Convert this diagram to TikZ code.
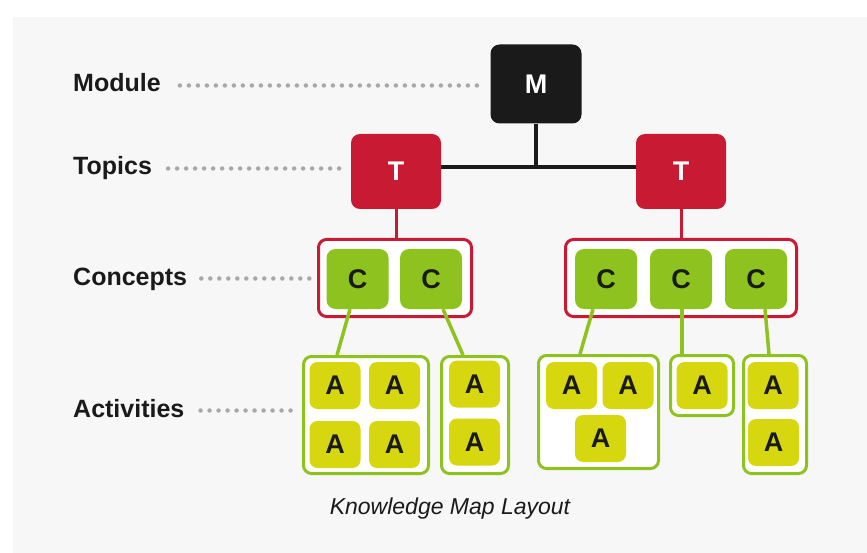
\documentclass[tikz,border=0pt]{standalone}
\usepackage{fontspec}
\setmainfont{Liberation Sans}
\usetikzlibrary{positioning,calc}
\definecolor{kmBlack}{HTML}{1A1A1A}
\definecolor{kmRed}{HTML}{C81A33}
\definecolor{kmGreen}{HTML}{8DC21F}
\definecolor{kmYellow}{HTML}{D7D70F}
\definecolor{kmBack}{HTML}{F7F7F7}
\definecolor{kmDot}{HTML}{A8A8A8}
\tikzset{
  kmbox/.style={rectangle, rounded corners=9pt, inner sep=0pt,
                font=\fontsize{27}{27}\selectfont\bfseries},
  kmmod/.style={kmbox, fill=kmBlack, text=white, minimum width=91pt, minimum height=79pt},
  kmtop/.style={kmbox, fill=kmRed, text=white, minimum width=90pt, minimum height=75pt},
  kmcon/.style={kmbox, fill=kmGreen, text=kmBlack, minimum width=62pt, minimum height=60pt},
  kmact/.style={kmbox, rounded corners=8pt, fill=kmYellow, text=kmBlack,
                minimum width=51pt, minimum height=47pt},
  kmcgrp/.style={rectangle, rounded corners=8pt, draw=kmRed, line width=3pt, fill=white},
  kmagrp/.style={rectangle, rounded corners=8pt, draw=kmGreen, line width=3pt, fill=white},
  kmlab/.style={anchor=west, inner sep=0pt, text height=18pt, text depth=5pt, text=kmBlack,
                font=\fontsize{25}{25}\selectfont\bfseries},
  kmguide/.style={draw=kmDot, line width=4.5pt, line cap=round, dash pattern=on 0pt off 9pt},
  kmlink/.style={draw=kmGreen, line width=3.5pt},
}

\begin{document}
\begin{tikzpicture}[x=1pt, y=-1pt]
  \useasboundingbox (0,0) rectangle (867,553);
  \fill[white] (0,0) rectangle (867,553);
  \fill[kmBack] (13,17) rectangle (867,553);

  % row labels
  \node[kmlab] (lModule) at (73,85.5) {Module};
  \node[kmlab] (lTopics) at (73,168.5) {Topics};
  \node[kmlab] (lConcepts) at (73,278.5) {Concepts};
  \node[kmlab] (lActivities) at (73,410.5) {Activities};

  % module and topics
  \node[kmmod] (M) at (536,84) {M};
  \node[kmtop] (T1) at (396,171.5) {T};
  \node[kmtop] (T2) at (681,171.5) {T};
  \coordinate (tj) at ($(T1.east)+(0,-4)$);
  \draw[kmBlack, line width=4pt] (tj) -- (tj -| T2.west);
  \draw[kmBlack, line width=4pt] (M.south) -- (M.south |- tj);

  % concept groups
  \node[kmcgrp, minimum width=153pt, minimum height=77pt] (CG1) at (395,278) {};
  \node[kmcgrp, minimum width=231pt, minimum height=77pt] (CG2) at (681,278) {};
  \draw[kmRed, line width=3pt] (T1.south) -- (T1.south |- CG1.north);
  \draw[kmRed, line width=3pt] (T2.south) -- (T2.south |- CG2.north);
  \node[kmcon] (C11) at (357.5,279) {C};
  \node[kmcon] (C12) at (431,279) {C};
  \node[kmcon] (C21) at (606,279) {C};
  \node[kmcon] (C22) at (681,279) {C};
  \node[kmcon] (C23) at (756,279) {C};

  % activity groups
  \node[kmagrp, minimum width=125pt, minimum height=117pt] (G1) at (366,415) {};
  \node[kmagrp, minimum width=67pt, minimum height=117pt] (G2) at (475,415) {};
  \node[kmagrp, minimum width=120pt, minimum height=113pt] (G3) at (598.5,412) {};
  \node[kmagrp, minimum width=63pt, minimum height=60pt] (G4) at (702,385.5) {};
  \node[kmagrp, minimum width=63pt, minimum height=118pt] (G5) at (775,414.5) {};

  \node[kmact] (A11) at (335,385.5) {A};
  \node[kmact] (A12) at (394.5,385.5) {A};
  \node[kmact] (A13) at (335,444.5) {A};
  \node[kmact] (A14) at (394.5,444.5) {A};
  \node[kmact] (A21) at (474.5,384) {A};
  \node[kmact] (A22) at (474.5,442) {A};
  \node[kmact] (A31) at (571.5,385.5) {A};
  \node[kmact] (A32) at (628,385.5) {A};
  \node[kmact] (A33) at (600.5,438.5) {A};
  \node[kmact] (A41) at (702,385.5) {A};
  \node[kmact] (A51) at (773,385.5) {A};
  \node[kmact] (A52) at (773.5,442.5) {A};

  % concept -> activity links
  \draw[kmlink] ([xshift=-7.5pt]C11.south) -- ([xshift=-29pt]G1.north);
  \draw[kmlink] ([xshift=12pt]C12.south) -- ([xshift=-12pt]G2.north);
  \draw[kmlink] ([xshift=-13pt]C21.south) -- ([xshift=-18.5pt]G3.north);
  \draw[kmlink] ([xshift=1pt]C22.south) -- ([xshift=-20pt]G4.north);
  \draw[kmlink] ([xshift=9pt]C23.south) -- ([xshift=-6pt]G5.north);

  % dotted guides
  \draw[kmguide] ([xshift=19pt]lModule.east) -- ($(lModule.east -| M.west)+(-5,0)$);
  \draw[kmguide] ([xshift=16pt]lTopics.east) -- ($(lTopics.east -| T1.west)+(-4,0)$);
  \draw[kmguide] ([xshift=14pt]lConcepts.east) -- ($(lConcepts.east -| CG1.west)+(-5,0)$);
  \draw[kmguide] ([xshift=16pt]lActivities.east) -- ($(lActivities.east -| G1.west)+(-5,0)$);

  \node[font=\fontsize{23}{23}\selectfont\itshape, text=kmBlack] (cap) at (450,509) {Knowledge Map Layout};
\end{tikzpicture}
\end{document}
